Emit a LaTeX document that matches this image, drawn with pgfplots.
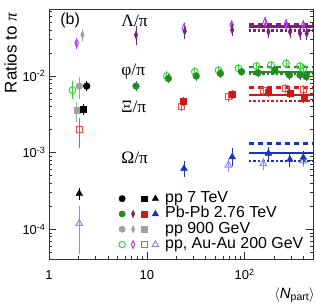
\documentclass[border=0pt]{standalone}
\usepackage{pgfplots}
\pgfplotsset{compat=1.18}
\usepackage{fontspec}
\setmainfont{Liberation Sans}
\newfontfamily\serif{Liberation Serif}
\definecolor{cpurple}{HTML}{7B1F7B}
\definecolor{cgreen}{HTML}{248A24}
\definecolor{cred}{HTML}{CC1A1A}
\definecolor{cblue}{HTML}{1A33BF}
\definecolor{cgray}{HTML}{A0A0A0}
\definecolor{ogreen}{HTML}{33D633}
\definecolor{oviolet}{HTML}{B040E8}
\definecolor{ored}{HTML}{FF4A4A}
\definecolor{oblue}{HTML}{8888FF}
\pgfplotsset{
  eb/.style={only marks, forget plot, error bars/y dir=both, error bars/y explicit,
    error bars/error bar style={line width=0.9bp, solid},
    error bars/error mark options={line width=0.9bp, mark size=2.5bp, solid}},
  fcirc/.style={mark=*, mark size=3.4bp, mark options={solid, fill=#1}, color=#1},
  fsq/.style={mark=square*, mark size=3.0bp, mark options={solid, fill=#1}, color=#1},
  ftri/.style={mark=triangle*, mark size=3.9bp, mark options={solid, fill=#1}, color=#1},
  fdia/.style={mark=diamond*, mark size=4.0bp, mark options={solid, fill=#1, xscale=0.6}, color=#1},
  ocirc/.style={mark=o, mark size=3.4bp, mark options={solid, line width=1bp}, color=#1},
  osq/.style={mark=square, mark size=3.0bp, mark options={solid, line width=1bp}, color=#1},
  otri/.style={mark=triangle, mark size=3.9bp, mark options={solid, line width=1bp}, color=#1},
  odia/.style={mark=diamond, mark size=4.0bp, mark options={solid, line width=1bp, xscale=0.6}, color=#1},
  tl/.style={forget plot, line width=2.4bp, no marks},
  dashl/.style={forget plot, line width=2.4bp, no marks, dash pattern=on 5bp off 4bp},
  dotl/.style={forget plot, line width=2.4bp, no marks, dash pattern=on 2.5bp off 2bp},
  tab/.style={/pgfplots/table/x index=0, /pgfplots/table/y index=1,
    /pgfplots/table/y error plus index=2, /pgfplots/table/y error minus index=3,
    /pgfplots/table/header=false},
}
\begin{document}
\begin{tikzpicture}
\useasboundingbox (-49bp,-47bp) rectangle (267bp,259bp);
\begin{axis}[
  at={(0,0)}, anchor=south west,
  scale only axis, width=264bp, height=250bp,
  xmode=log, ymode=log,
  xmin=1, xmax=500, ymin=4.1e-5, ymax=0.075,
  axis line style={black!80, line width=0.8bp},
  tick align=inside, xtick pos=left, ytick pos=both,
  major tick length=7bp, minor tick length=3.5bp,
  every tick/.style={black!80, line width=0.6bp},
  xtick={1,10,100}, xticklabels={1,10,10\textsuperscript{2}},
  minor xtick={2,3,4,5,6,7,8,9,20,30,40,50,60,70,80,90,200,300,400,500},
  ytick={1e-4,1e-3,1e-2}, yticklabels={10\textsuperscript{-4},10\textsuperscript{-3},10\textsuperscript{-2}},
  minor ytick={5e-5,6e-5,7e-5,8e-5,9e-5,2e-4,3e-4,4e-4,5e-4,6e-4,7e-4,8e-4,9e-4,2e-3,3e-3,4e-3,5e-3,6e-3,7e-3,8e-3,9e-3,2e-2,3e-2,4e-2,5e-2,6e-2,7e-2},
  tick label style={font=\fontsize{13}{13}\selectfont},
  xticklabel style={text height=9.3bp, yshift=-8bp},
  clip=false,
  legend style={at={(rel axis cs:0.260,0.272)}, anchor=north west, draw=none, fill=none,
    inner sep=0pt, outer sep=0pt, row sep=0pt, column sep=0pt,
    font=\fontsize{16}{16}\selectfont,
    nodes={inner sep=0pt, outer sep=0pt, text height=11.5bp, text depth=3.8bp}},
  legend cell align=left,
]
% model lines
\addplot[tl, cpurple] coordinates {(110,0.0443) (500,0.0443)};
\addplot[dashl, cpurple] coordinates {(110,0.0468) (500,0.0468)};
\addplot[dotl, cpurple] coordinates {(110,0.0391) (500,0.0391)};
\addplot[tl, cgreen] coordinates {(110,0.0113) (500,0.0113)};
\addplot[dashl, cgreen] coordinates {(110,0.0132) (500,0.0132)};
\addplot[dotl, cgreen] coordinates {(110,0.0106) (500,0.0106)};
\addplot[tl, cred] coordinates {(110,0.00565) (500,0.00565)};
\addplot[dashl, cred] coordinates {(110,0.0071) (500,0.0071)};
\addplot[dotl, cred] coordinates {(110,0.00475) (500,0.00475)};
\addplot[tl, cblue] coordinates {(110,0.000994) (500,0.000994)};
\addplot[dashl, cblue] coordinates {(110,0.00132) (500,0.00132)};
\addplot[dotl, cblue] coordinates {(110,0.000782) (500,0.000782)};
% Lambda/pi
\addplot[eb, odia=oviolet] table[tab] {
1.92 0.0268 0.0025 0.0025
24 0.0425 0.003 0.003
73.8 0.0464 0.004 0.004
162 0.0513 0.004 0.004
265 0.0478 0.004 0.004
398 0.0464 0.004 0.004
};
\addplot[eb, fdia=cgray] table[tab] {
2.2 0.0344 0.0036 0.0036
};
\addplot[eb, fdia=cpurple] table[tab] {
7.75 0.0344 0.0076 0.0072
24.4 0.0385 0.0075 0.006
74.6 0.0399 0.0045 0.0045
175 0.0379 0.0047 0.0042
291 0.0379 0.004 0.004
368 0.0361 0.004 0.004
431 0.0361 0.004 0.004
};
% phi/pi
\addplot[eb, ocirc=ogreen] table[tab] {
1.74 0.00656 0.0015 0.0012
16 0.0100 0.0008 0.0008
31 0.0114 0.0008 0.0008
54 0.0119 0.0008 0.0008
86.5 0.0126 0.0008 0.0008
132 0.0135 0.0008 0.0008
186 0.0139 0.0008 0.0008
265 0.0146 0.0008 0.0008
368 0.0135 0.0008 0.0008
398 0.0126 0.0008 0.0008
};
\addplot[eb, fcirc=cgray] table[tab] {
2.04 0.0074 0.0017 0.0020
};
\addplot[eb, fcirc=black] table[tab] {
2.43 0.0074 0.0006 0.0006
};
\addplot[eb, fcirc=cgreen] table[tab] {
7.75 0.0074 0.0005 0.0005
16.6 0.0093 0.0006 0.0006
32 0.0100 0.0006 0.0006
56.5 0.0108 0.0006 0.0006
93 0.0114 0.0006 0.0006
137 0.0110 0.0006 0.0006
204 0.0120 0.0006 0.0006
287 0.0103 0.0006 0.0006
368 0.0103 0.0006 0.0006
427 0.0098 0.0006 0.0006
};
% Xi/pi
\addplot[eb, fsq=cgray] table[tab] {
1.92 0.0036 0.0007 0.0009
};
\addplot[eb, fsq=black] table[tab] {
2.24 0.00367 0.0003 0.0003
};
\addplot[eb, osq=ored] table[tab] {
2.04 0.00201 0.00065 0.00076
22.4 0.00405 0.0003 0.0003
68.3 0.00537 0.0004 0.0004
155 0.00656 0.0004 0.0004
262 0.0069 0.0004 0.0004
398 0.0067 0.0004 0.0004
};
\addplot[eb, fsq=cred] table[tab] {
23.6 0.00471 0.0003 0.0003
74.6 0.00577 0.0004 0.0004
175 0.00623 0.0004 0.0004
289 0.0060 0.0004 0.0004
403 0.00516 0.0004 0.0004
};
% Omega/pi
\addplot[eb, ftri=black] table[tab] {
2.04 0.000293 0.00003 0.00003
};
\addplot[eb, otri=oblue] table[tab] {
2.04 0.000119 0.00007 0.000067
68.3 0.000687 0.00008 0.00008
155 0.00072 0.00008 0.00008
398 0.00078 0.00008 0.00008
};
\addplot[eb, ftri=cblue] table[tab] {
24 0.00062 0.0001 0.0001
74.6 0.00088 0.0002 0.00015
175 0.00098 0.00013 0.00013
290 0.000815 0.00012 0.00012
398 0.000865 0.0001 0.0001
};
% legend
\addlegendimage{legend image code/.code={
  \path[draw=none, fill=none] (-4.5bp,-4.5bp) rectangle (38bp,4.5bp);
  \draw[black] plot[mark=*, mark size=3.2bp, mark options={fill=black}] coordinates {(0bp,0bp)};
  \draw[black] plot[mark=square*, mark size=2.8bp, mark options={fill=black}] coordinates {(22.3bp,0bp)};
  \draw[black] plot[mark=triangle*, mark size=3.7bp, mark options={fill=black}] coordinates {(33.3bp,0bp)};
}}
\addlegendentry{\hspace*{5bp}pp 7 TeV}
\addlegendimage{legend image code/.code={
  \path[draw=none, fill=none] (-4.5bp,-4.5bp) rectangle (38bp,4.5bp);
  \draw[cgreen] plot[mark=*, mark size=3.2bp, mark options={fill=cgreen}] coordinates {(0bp,0bp)};
  \draw[cpurple] plot[mark=diamond*, mark size=3.8bp, mark options={fill=cpurple, xscale=0.6}] coordinates {(11bp,0bp)};
  \draw[cred] plot[mark=square*, mark size=2.8bp, mark options={fill=cred}] coordinates {(22.3bp,0bp)};
  \draw[cblue] plot[mark=triangle*, mark size=3.7bp, mark options={fill=cblue}] coordinates {(33.3bp,0bp)};
}}
\addlegendentry{\hspace*{5bp}Pb-Pb 2.76 TeV}
\addlegendimage{legend image code/.code={
  \path[draw=none, fill=none] (-4.5bp,-4.5bp) rectangle (38bp,4.5bp);
  \draw[cgray] plot[mark=*, mark size=3.2bp, mark options={fill=cgray}] coordinates {(0bp,0bp)};
  \draw[cgray] plot[mark=diamond*, mark size=3.8bp, mark options={fill=cgray, xscale=0.6}] coordinates {(11bp,0bp)};
  \draw[cgray] plot[mark=square*, mark size=2.8bp, mark options={fill=cgray}] coordinates {(22.3bp,0bp)};
}}
\addlegendentry{\hspace*{5bp}pp 900 GeV}
\addlegendimage{legend image code/.code={
  \path[draw=none, fill=none] (-4.5bp,-4.5bp) rectangle (38bp,4.5bp);
  \draw[ogreen, line width=1bp] plot[mark=o, mark size=3.2bp] coordinates {(0bp,0bp)};
  \draw[oviolet, line width=1bp] plot[mark=diamond, mark size=3.8bp, mark options={xscale=0.6}] coordinates {(11bp,0bp)};
  \draw[ored, line width=1bp] plot[mark=square, mark size=2.8bp] coordinates {(22.3bp,0bp)};
  \draw[oblue, line width=1bp] plot[mark=triangle, mark size=3.7bp] coordinates {(33.3bp,0bp)};
}}
\addlegendentry{\hspace*{5bp}pp, Au-Au 200 GeV}
% labels
\node[anchor=base west, font=\fontsize{16}{16}\selectfont] at (rel axis cs:0.030,0.936) {(b)};
\node[anchor=base west, font=\serif\fontsize{17.5}{17.5}\selectfont] at (rel axis cs:0.261,0.929) {Λ/π};
\node[anchor=base west, font=\serif\fontsize{17.5}{17.5}\selectfont] at (rel axis cs:0.261,0.735) {φ/π};
\node[anchor=base west, font=\serif\fontsize{17.5}{17.5}\selectfont] at (rel axis cs:0.261,0.585) {Ξ/π};
\node[anchor=base west, font=\serif\fontsize{17.5}{17.5}\selectfont] at (rel axis cs:0.261,0.382) {Ω/π};
\node[anchor=base east, rotate=90, inner sep=0pt, font=\fontsize{17}{17}\selectfont] at (rel axis cs:-0.123,0.984) {Ratios to {\serif\itshape π}};
\node[anchor=base east, inner sep=0pt, font=\fontsize{15}{15}\selectfont] at (rel axis cs:1.0076,-0.156) {$\langle$\textit{N}\textsubscript{part}$\rangle$};
\end{axis}
\end{tikzpicture}
\end{document}
